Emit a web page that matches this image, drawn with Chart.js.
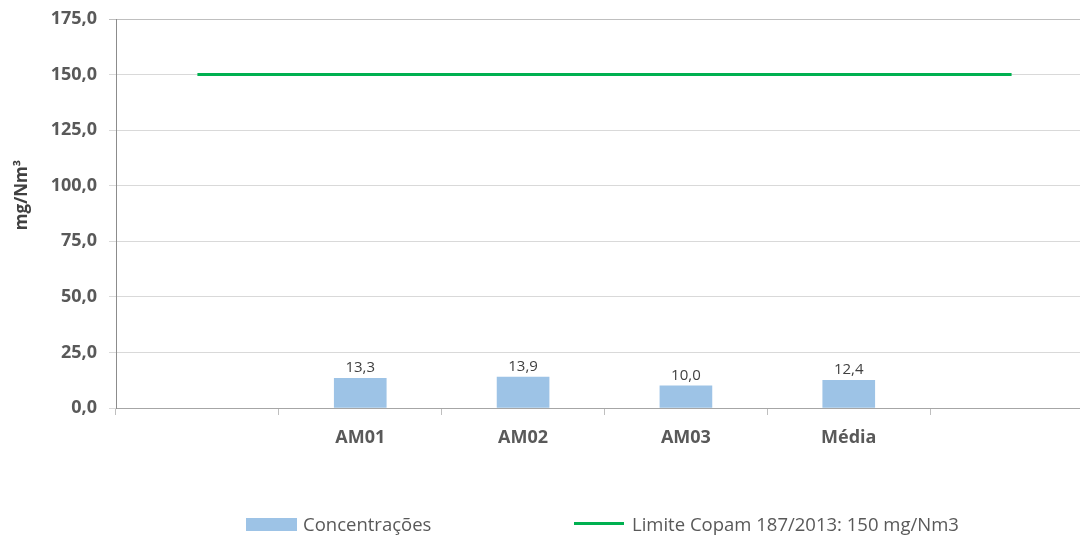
<!DOCTYPE html>
<html lang="pt">
<head>
<meta charset="UTF-8">
<title>Concentrações</title>
<script src="https://cdn.jsdelivr.net/npm/chart.js"></script>
<style>
    body { margin: 0; background: #fff; overflow: hidden; }
    #wrap { position: relative; width: 1080px; height: 535px; overflow: hidden; }
    #myChart { position: absolute; left: 0; top: 0; }
    .leg { position: absolute; font-family: "Open Sans"; font-size: 18.5px; color: #595959; line-height: 22px; white-space: nowrap; }
    .box { position: absolute; }
</style>
</head>
<body>
<div id="wrap">
    <!-- o gráfico passa um pouco da borda direita, como no original -->
    <canvas id="myChart" width="1094" height="535"></canvas>
    <div class="box" style="left:246px; top:518px; width:51px; height:13px; background:#9dc3e6;"></div>
    <div class="leg" style="left:303px; top:513px;">Concentrações</div>
    <div class="box" style="left:574px; top:522px; width:50px; height:3px; background:#00b050;"></div>
    <div class="leg" style="left:632px; top:513px;">Limite Copam 187/2013: 150 mg/Nm3</div>
</div>
<script>
    const categories = ['', 'AM01', 'AM02', 'AM03', 'Média', ''];
    const concentracoes = [null, 13.3, 13.9, 10.0, 12.4, null];
    const limite = [150, 150, 150, 150, 150, 150];
    const yMin = 0, yMax = 175, yStep = 25;

    const fmt = v => v.toFixed(1).replace('.', ',');

    // rótulos em cima das barras
    const rotulos = {
        id: 'rotulos',
        afterDatasetsDraw(chart) {
            const ctx = chart.ctx;
            const meta = chart.getDatasetMeta(0);
            ctx.save();
            ctx.font = '15px "Open Sans"';
            ctx.fillStyle = '#404040';
            ctx.textAlign = 'center';
            ctx.textBaseline = 'bottom';
            meta.data.forEach((bar, i) => {
                const v = concentracoes[i];
                if (v == null) return;
                ctx.fillText(fmt(v), bar.x, bar.y - 3);
            });
            ctx.restore();
        }
    };

    // título do eixo y (um pouco acima do centro, como no Excel)
    const tituloY = {
        id: 'tituloY',
        afterDraw(chart) {
            const ctx = chart.ctx;
            ctx.save();
            ctx.translate(22, 195);
            ctx.rotate(-Math.PI / 2);
            ctx.font = 'bold 17px "Open Sans"';
            ctx.fillStyle = '#404040';
            ctx.textAlign = 'center';
            ctx.textBaseline = 'middle';
            ctx.fillText('mg/Nm³', 0, 0);
            ctx.restore();
        }
    };

    const ctx = document.getElementById('myChart').getContext('2d');
    const myChart = new Chart(ctx, {
        type: 'bar',
        data: {
            labels: categories,
            datasets: [{
                label: 'Concentrações',
                data: concentracoes,
                backgroundColor: '#9dc3e6',
                borderWidth: 0,
                barThickness: 52,
                order: 2
            }, {
                type: 'line',
                label: 'Limite Copam 187/2013: 150 mg/Nm3',
                data: limite,
                borderColor: '#00b050',
                backgroundColor: '#00b050',
                borderWidth: 3,
                pointRadius: 0,
                fill: false,
                order: 1
            }]
        },
        options: {
            responsive: false,
            animation: false,
            devicePixelRatio: 1,
            layout: { padding: { top: 19, right: 1, left: 0, bottom: 0 } },
            plugins: {
                legend: { display: false },
                tooltip: { enabled: false }
            },
            scales: {
                x: {
                    offset: true,
                    grid: { drawOnChartArea: false, drawTicks: true, tickLength: 7, color: '#bfbfbf', offset: true },
                    border: { color: '#a6a6a6', width: 1 },
                    ticks: {
                        color: '#595959',
                        font: { family: 'Open Sans', size: 18, weight: 'bold' },
                        padding: 12,
                        maxRotation: 0,
                        autoSkip: false
                    },
                    afterFit(s) { s.height = 127; }
                },
                y: {
                    min: yMin,
                    max: yMax,
                    grid: {
                        color: c => c.tick && c.tick.value === yMax ? '#bfbfbf' : '#d9d9d9',
                        tickLength: 7
                    },
                    border: { color: '#8c8c8c', width: 1 },
                    ticks: {
                        stepSize: yStep,
                        color: '#595959',
                        font: { family: 'Open Sans', size: 18, weight: 'bold' },
                        padding: 12,
                        callback: v => fmt(v)
                    },
                    afterFit(s) {
                        s.width = 116;
                        s.paddingTop = 0;
                        s.paddingBottom = 0;
                    }
                }
            }
        },
        plugins: [rotulos, tituloY]
    });
</script>
</body>
</html>
